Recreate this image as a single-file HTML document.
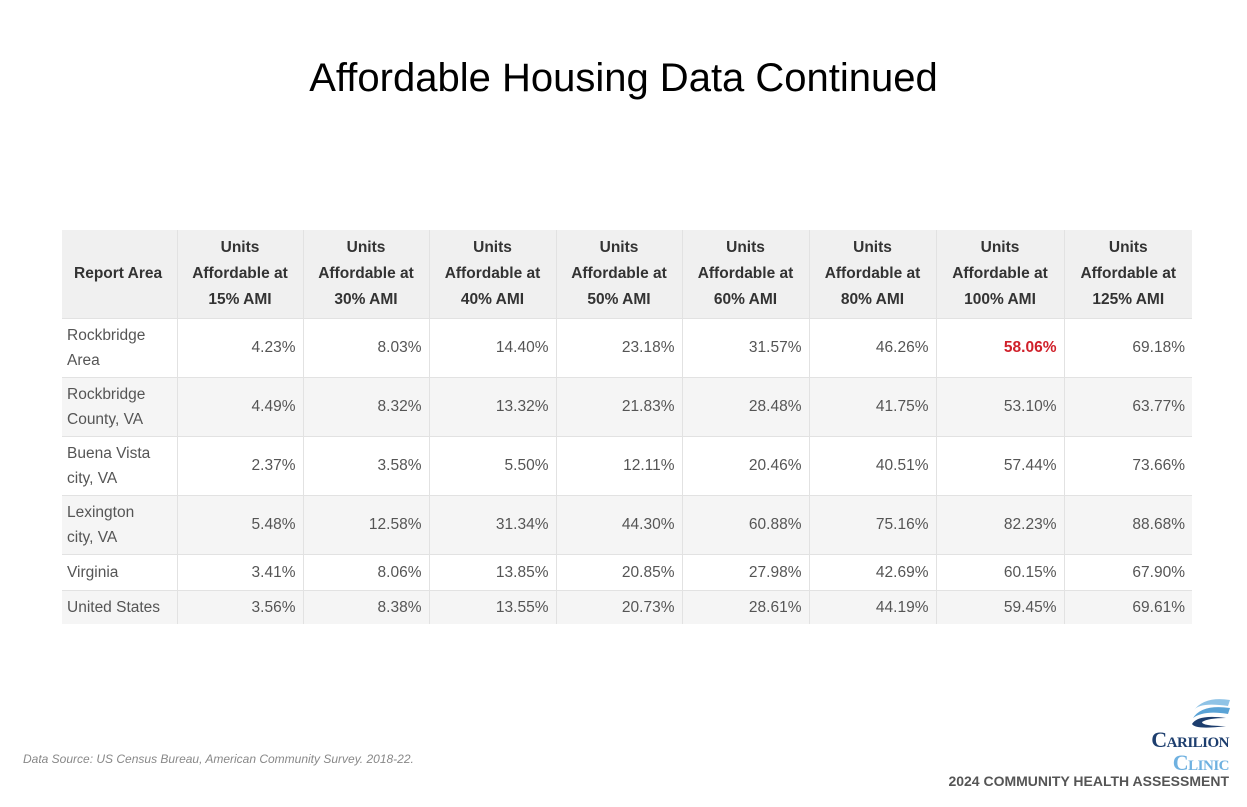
<!DOCTYPE html>
<html><head><meta charset="utf-8"><style>
body{margin:0;width:1247px;height:807px;background:#fff;position:relative;overflow:hidden;font-family:"Liberation Sans",sans-serif}
h1{position:absolute;left:0;width:1247px;top:56px;margin:0;text-align:center;font-weight:normal;font-size:40px;color:#000}
table{position:absolute;left:62px;top:230px;border-collapse:collapse;table-layout:fixed;font-size:15.5px;color:#555}
td,th{border-left:1px solid #e2e2e2;padding:0 7px;box-sizing:border-box}
th{background:#f0f0f0;color:#333;font-weight:bold;text-align:center;line-height:26px;height:88px}
th:first-child{text-align:left;padding-left:12px}
td{text-align:right;border-top:1px solid #e2e2e2;line-height:25px}
td:first-child{text-align:left;padding-left:5px;border-left:none}
th:first-child{border-left:none}
tr.g td{background:#f5f5f5}
.red{color:#d0202a;font-weight:bold}
.src{position:absolute;left:23px;top:752px;font-size:12px;font-style:italic;color:#888}
.logo{position:absolute;right:18px;top:730px;text-align:right;font-family:"Liberation Serif",serif;font-weight:bold;line-height:20px;font-variant:small-caps;letter-spacing:-0.5px}
.foot{position:absolute;right:18px;top:773px;font-size:14px;font-weight:bold;color:#555}
</style></head><body>
<h1>Affordable Housing Data Continued</h1>
<table>
<colgroup><col style="width:115px"><col style="width:126px"><col style="width:126px"><col style="width:127px"><col style="width:126px"><col style="width:127px"><col style="width:127px"><col style="width:128px"><col style="width:128px"></colgroup>
<tr><th>Report Area</th><th>Units<br>Affordable at<br>15% AMI</th><th>Units<br>Affordable at<br>30% AMI</th><th>Units<br>Affordable at<br>40% AMI</th><th>Units<br>Affordable at<br>50% AMI</th><th>Units<br>Affordable at<br>60% AMI</th><th>Units<br>Affordable at<br>80% AMI</th><th>Units<br>Affordable at<br>100% AMI</th><th>Units<br>Affordable at<br>125% AMI</th></tr>
<tr style="height:59px"><td>Rockbridge<br>Area</td><td>4.23%</td><td>8.03%</td><td>14.40%</td><td>23.18%</td><td>31.57%</td><td>46.26%</td><td class="red">58.06%</td><td>69.18%</td></tr>
<tr class="g" style="height:59px"><td>Rockbridge<br>County, VA</td><td>4.49%</td><td>8.32%</td><td>13.32%</td><td>21.83%</td><td>28.48%</td><td>41.75%</td><td>53.10%</td><td>63.77%</td></tr>
<tr style="height:59px"><td>Buena Vista<br>city, VA</td><td>2.37%</td><td>3.58%</td><td>5.50%</td><td>12.11%</td><td>20.46%</td><td>40.51%</td><td>57.44%</td><td>73.66%</td></tr>
<tr class="g" style="height:59px"><td>Lexington<br>city, VA</td><td>5.48%</td><td>12.58%</td><td>31.34%</td><td>44.30%</td><td>60.88%</td><td>75.16%</td><td>82.23%</td><td>88.68%</td></tr>
<tr style="height:36px"><td>Virginia</td><td>3.41%</td><td>8.06%</td><td>13.85%</td><td>20.85%</td><td>27.98%</td><td>42.69%</td><td>60.15%</td><td>67.90%</td></tr>
<tr class="g" style="height:34px"><td>United States</td><td>3.56%</td><td>8.38%</td><td>13.55%</td><td>20.73%</td><td>28.61%</td><td>44.19%</td><td>59.45%</td><td>69.61%</td></tr>
</table>
<div class="src">Data Source: US Census Bureau, American Community Survey. 2018-22.</div>
<svg style="position:absolute;left:1190px;top:696px" width="42" height="34"><path d="M40 4 Q15 0 4 14 Q10 6 38 10Z" fill="#8fc3e6"/><path d="M40 12 Q12 8 3 22 Q14 14 38 18Z" fill="#5aa3d6"/><path d="M36 22 Q8 18 2 28 Q6 34 36 30 Q12 30 12 26 Q18 22 36 22Z" fill="#1d3e6e"/></svg>
<div class="logo"><span style="color:#1d3e6e;font-size:22px">Carilion</span><br><span style="color:#6fb1e0;font-size:22px">Clinic</span></div>
<div class="foot">2024 COMMUNITY HEALTH ASSESSMENT</div>
</body></html>
